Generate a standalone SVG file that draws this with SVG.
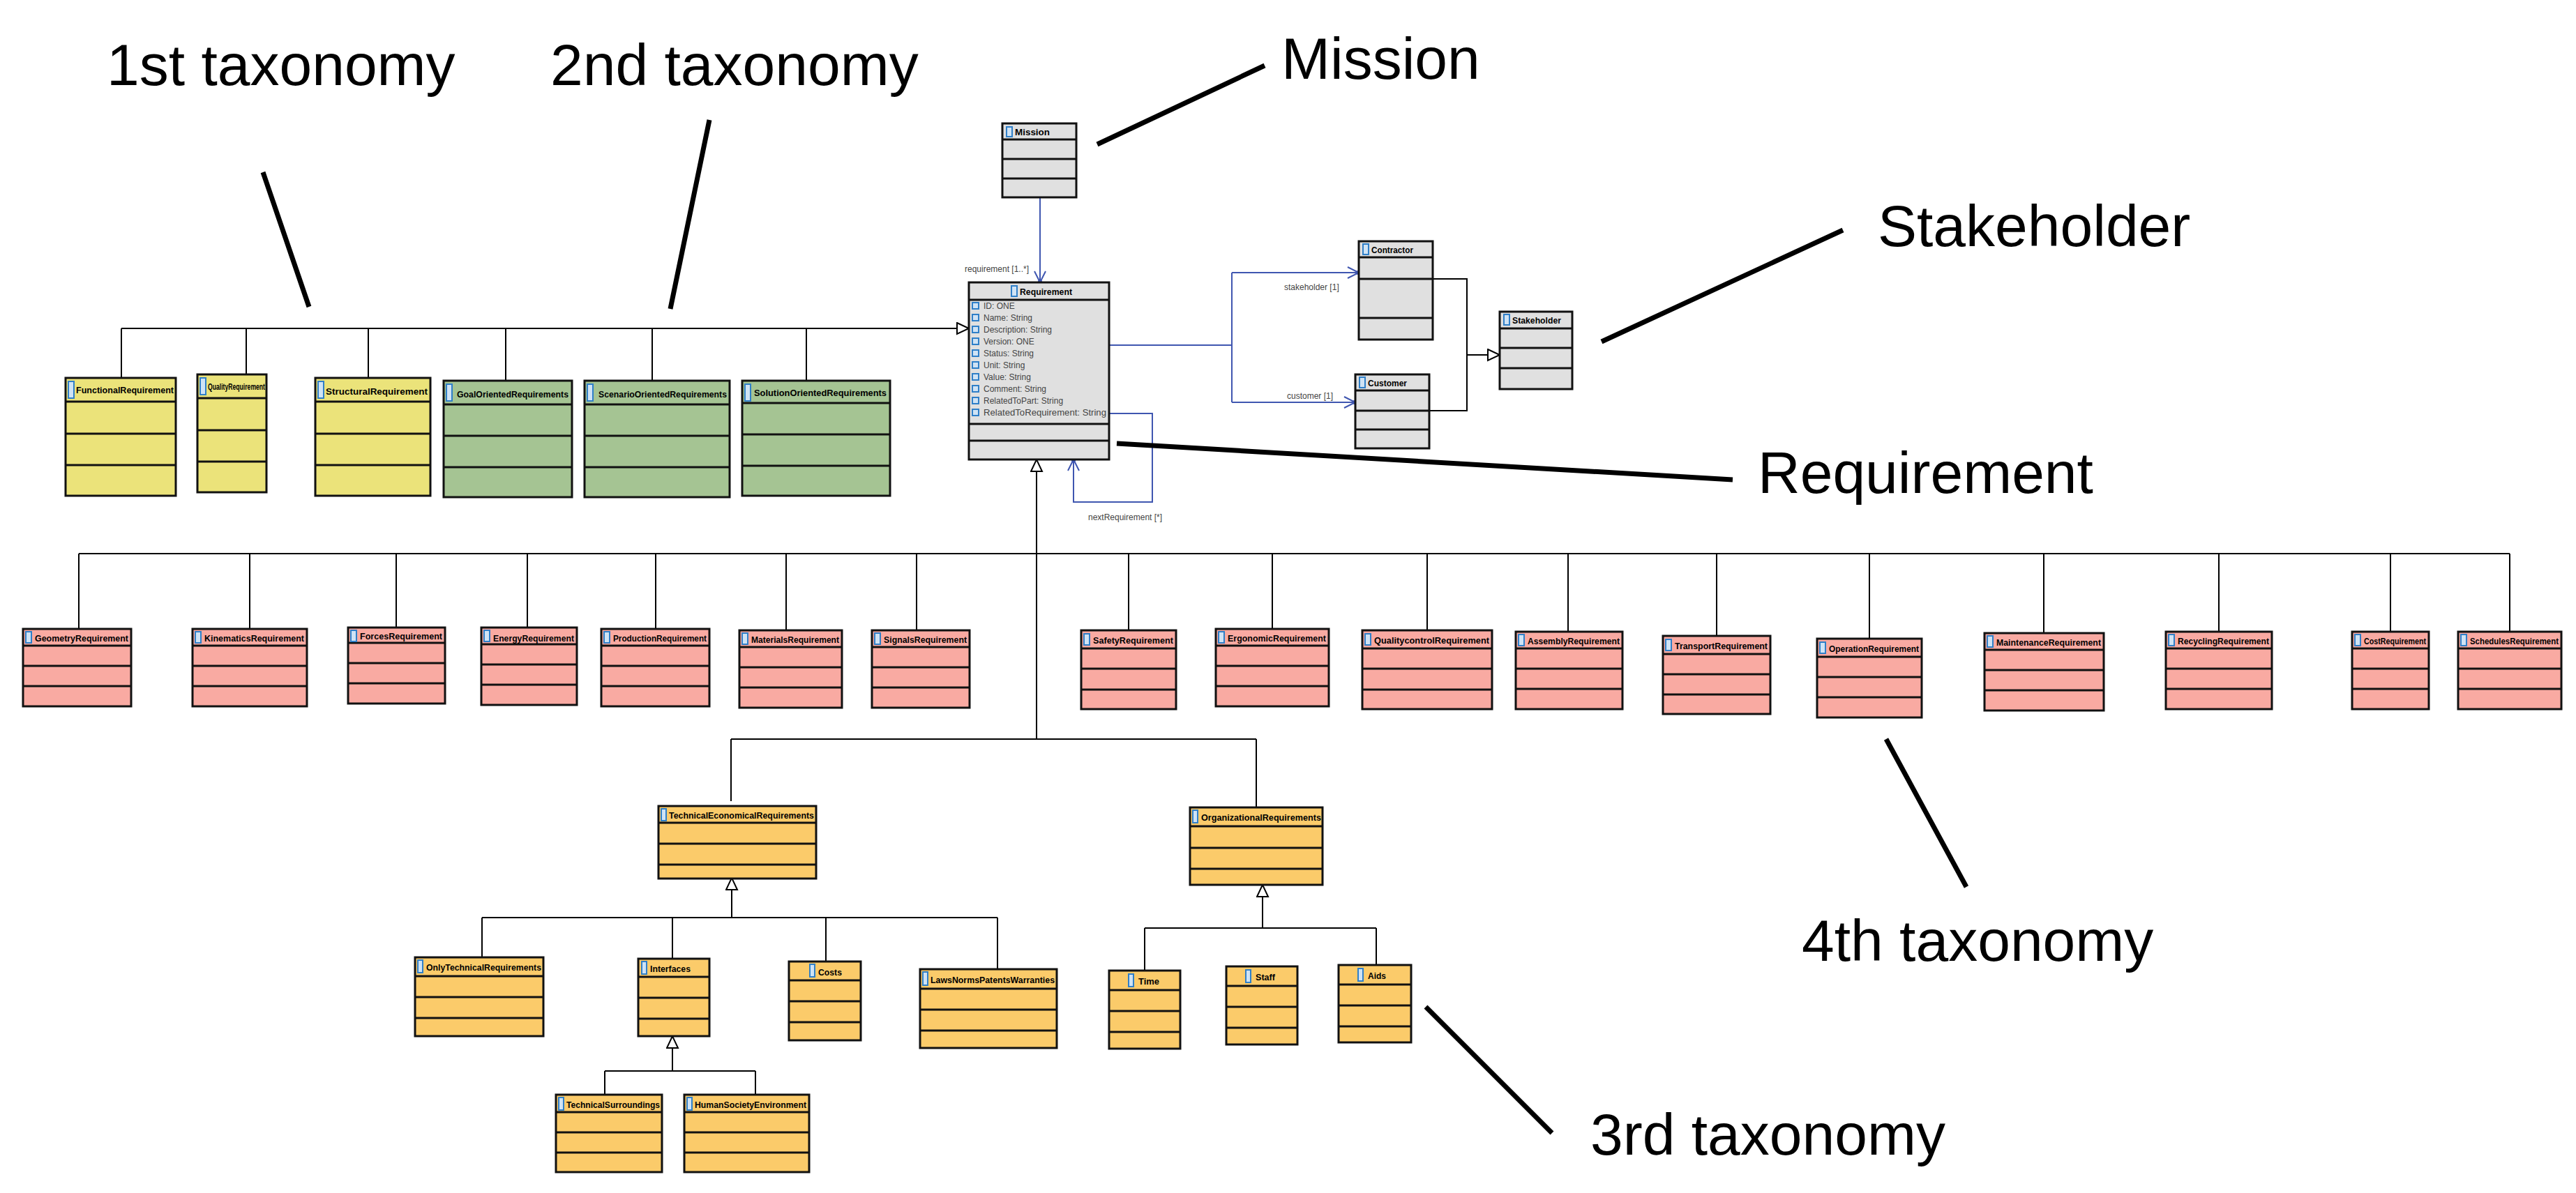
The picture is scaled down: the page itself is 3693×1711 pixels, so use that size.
<svg xmlns="http://www.w3.org/2000/svg" width="3693" height="1711" viewBox="0 0 3693 1711">
<style>
.b{stroke:#111;stroke-width:3}
.y{fill:#ebe37a}.g{fill:#a5c493}.p{fill:#f9aaa2}.o{fill:#fbcb6a}.gr{fill:#e0e0e0}
.cl{stroke:#111;stroke-width:3}
.ic{fill:#cfe3f5;stroke:#2f7fc8;stroke-width:2}
.n{font-family:"Liberation Sans",Arial,sans-serif;font-weight:bold;font-size:13px;fill:#000}
.a{font-family:"Liberation Sans",Arial,sans-serif;font-size:12px;fill:#444}
.lb{font-family:"Liberation Sans",Arial,sans-serif;font-size:12px;fill:#444}
.big{font-family:"Liberation Sans",Arial,sans-serif;font-size:84px;fill:#000}
.k{stroke:#000;stroke-width:2;fill:none}
.bl{stroke:#3f56b0;stroke-width:2;fill:none}
.ptr{stroke:#000;stroke-width:7}
</style>
<defs>
<marker id="gen" markerUnits="userSpaceOnUse" markerWidth="22" markerHeight="22" refX="18" refY="9" orient="auto"><path d="M1,1 L18,9 L1,17 Z" fill="#fff" stroke="#000" stroke-width="2"/></marker>
<marker id="opn" markerUnits="userSpaceOnUse" markerWidth="22" markerHeight="22" refX="18" refY="9" orient="auto"><path d="M2,1 L18,9 L2,17" fill="none" stroke="#3f56b0" stroke-width="2"/><circle cx="17" cy="9" r="3" fill="#3f56b0"/></marker>
</defs>
<rect width="3693" height="1711" fill="#fff"/>

<g id="connectors">
<!-- 1st/2nd taxonomy -->
<path class="k" d="M174,471 H1389" stroke-width="3" marker-end="url(#gen)"/>
<path class="k" d="M174,471 V542 M353,471 V537 M528,471 V542 M725,471 V546 M935,471 V546 M1156,471 V546"/>
<!-- mission -->
<path class="bl" d="M1491,283 V405" marker-end="url(#opn)"/>
<!-- stakeholder assoc -->
<path class="bl" d="M1590,495 H1766" stroke-width="3"/>
<path class="bl" d="M1766,391 V577 M1766,391 H1948" marker-end="url(#opn)"/>
<path class="bl" d="M1766,577 H1943" marker-end="url(#opn)"/>
<path class="k" d="M2054,400 H2103 V589 H2049 M2103,509 H2150" marker-end="url(#gen)"/>
<!-- self loop -->
<path class="bl" d="M1590,593 H1652 V720 H1539 V659" marker-end="url(#opn)"/>
<!-- 4th taxonomy -->
<path class="k" d="M1486,1060 V659" marker-end="url(#gen)"/>
<path class="k" d="M113,794 H3598"/>
<path class="k" d="M113,794 V902 M358,794 V902 M568,794 V900 M756,794 V900 M940,794 V902 M1127,794 V904 M1314,794 V904 M1618,794 V904 M1824,794 V902 M2046,794 V904 M2248,794 V906 M2461,794 V912 M2680,794 V916 M2930,794 V908 M3181,794 V906 M3427,794 V906 M3598,794 V906"/>
<!-- 3rd taxonomy -->
<path class="k" d="M1048,1060 H1801 M1048,1060 V1149 M1801,1060 V1158"/>
<path class="k" d="M1049,1316 V1259" marker-end="url(#gen)"/>
<path class="k" d="M691,1316 H1430 M691,1316 V1373 M964,1316 V1375 M1184,1316 V1379 M1430,1316 V1390"/>
<path class="k" d="M1810,1331 V1269" marker-end="url(#gen)"/>
<path class="k" d="M1641,1331 H1973 M1641,1331 V1392 M1973,1331 V1384"/>
<path class="k" d="M964,1536 V1486" marker-end="url(#gen)"/>
<path class="k" d="M867,1536 H1083 M867,1536 V1570 M1083,1536 V1570"/>
<!-- pointer lines -->
<path class="ptr" d="M377,247 L443,440 M1017,172 L961,443 M1813,94 L1573,207 M2642,330 L2296,490 M1601,636 L2484,688 M2704,1060 L2819,1272 M2044,1444 L2225,1625"/>
</g>

<g id="labels">
<text class="lb" x="1383" y="390">requirement [1..*]</text>
<text class="lb" x="1841" y="416">stakeholder [1]</text>
<text class="lb" x="1845" y="572">customer [1]</text>
<text class="lb" x="1560" y="746">nextRequirement [*]</text>
<text class="big" x="153" y="122">1st taxonomy</text>
<text class="big" x="789" y="122">2nd taxonomy</text>
<text class="big" x="1837" y="113">Mission</text>
<text class="big" x="2692" y="353">Stakeholder</text>
<text class="big" x="2520" y="707">Requirement</text>
<text class="big" x="2583" y="1378">4th taxonomy</text>
<text class="big" x="2280" y="1656">3rd taxonomy</text>
</g>

<g id="Mission"><rect class="gr cl" x="1437" y="177" width="106" height="106"/><path class="cl" d="M1437,200 H1543 M1437,228 H1543 M1437,256 H1543"/><rect class="ic" x="1443" y="182" width="8" height="14"/><text class="n" x="1455" y="194" textLength="50" lengthAdjust="spacingAndGlyphs">Mission</text></g>

<g id="Requirement"><rect class="gr cl" x="1389" y="405" width="201" height="254"/><path class="cl" d="M1389,430 H1590 M1389,608 H1590 M1389,632 H1590"/><rect class="ic" x="1450" y="410" width="8" height="15"/><text class="n" x="1462" y="423" textLength="75" lengthAdjust="spacingAndGlyphs">Requirement</text>
<g class="a">
<rect class="ic" x="1394" y="434" width="9" height="9"/><text x="1410" y="443">ID: ONE</text>
<rect class="ic" x="1394" y="451" width="9" height="9"/><text x="1410" y="460">Name: String</text>
<rect class="ic" x="1394" y="468" width="9" height="9"/><text x="1410" y="477">Description: String</text>
<rect class="ic" x="1394" y="485" width="9" height="9"/><text x="1410" y="494">Version: ONE</text>
<rect class="ic" x="1394" y="502" width="9" height="9"/><text x="1410" y="511">Status: String</text>
<rect class="ic" x="1394" y="519" width="9" height="9"/><text x="1410" y="528">Unit: String</text>
<rect class="ic" x="1394" y="536" width="9" height="9"/><text x="1410" y="545">Value: String</text>
<rect class="ic" x="1394" y="553" width="9" height="9"/><text x="1410" y="562">Comment: String</text>
<rect class="ic" x="1394" y="570" width="9" height="9"/><text x="1410" y="579">RelatedToPart: String</text>
<rect class="ic" x="1394" y="587" width="9" height="9"/><text x="1410" y="596" textLength="176" lengthAdjust="spacingAndGlyphs">RelatedToRequirement: String</text>
</g></g>

<g id="Contractor"><rect class="gr cl" x="1948" y="346" width="106" height="141"/><path class="cl" d="M1948,369 H2054 M1948,400 H2054 M1948,456 H2054"/><rect class="ic" x="1954" y="350" width="8" height="15"/><text class="n" x="1966" y="363" textLength="60" lengthAdjust="spacingAndGlyphs">Contractor</text></g>
<g id="Customer"><rect class="gr cl" x="1943" y="537" width="106" height="106"/><path class="cl" d="M1943,560 H2049 M1943,589 H2049 M1943,616 H2049"/><rect class="ic" x="1949" y="541" width="8" height="15"/><text class="n" x="1961" y="554" textLength="56" lengthAdjust="spacingAndGlyphs">Customer</text></g>
<g id="Stakeholder"><rect class="gr cl" x="2150" y="447" width="104" height="111"/><path class="cl" d="M2150,471 H2254 M2150,499 H2254 M2150,528 H2254"/><rect class="ic" x="2156" y="451" width="8" height="15"/><text class="n" x="2168" y="464" textLength="70" lengthAdjust="spacingAndGlyphs">Stakeholder</text></g>

<!-- 1st taxonomy -->
<g id="FunctionalRequirement"><rect class="y cl" x="94" y="542" width="158" height="169"/><path class="cl" d="M94,576 H252 M94,622 H252 M94,667 H252"/><rect class="ic" x="98" y="547" width="8" height="24"/><text class="n" x="109" y="564" textLength="140" lengthAdjust="spacingAndGlyphs">FunctionalRequirement</text></g>
<g id="QualityRequirement"><rect class="y cl" x="283" y="537" width="99" height="169"/><path class="cl" d="M283,571 H382 M283,617 H382 M283,662 H382"/><rect class="ic" x="287" y="542" width="8" height="24"/><text class="n" x="298" y="559" textLength="82" lengthAdjust="spacingAndGlyphs">QualityRequirement</text></g>
<g id="StructuralRequirement"><rect class="y cl" x="452" y="542" width="165" height="169"/><path class="cl" d="M452,576 H617 M452,622 H617 M452,667 H617"/><rect class="ic" x="456" y="547" width="8" height="24"/><text class="n" x="467" y="566" textLength="146" lengthAdjust="spacingAndGlyphs">StructuralRequirement</text></g>
<!-- 2nd taxonomy -->
<g id="GoalOrientedRequirements"><rect class="g cl" x="636" y="546" width="184" height="167"/><path class="cl" d="M636,580 H820 M636,625 H820 M636,670 H820"/><rect class="ic" x="640" y="551" width="8" height="24"/><text class="n" x="655" y="570" textLength="160" lengthAdjust="spacingAndGlyphs">GoalOrientedRequirements</text></g>
<g id="ScenarioOrientedRequirements"><rect class="g cl" x="838" y="546" width="208" height="167"/><path class="cl" d="M838,580 H1046 M838,625 H1046 M838,670 H1046"/><rect class="ic" x="842" y="551" width="8" height="24"/><text class="n" x="858" y="570" textLength="184" lengthAdjust="spacingAndGlyphs">ScenarioOrientedRequirements</text></g>
<g id="SolutionOrientedRequirements"><rect class="g cl" x="1064" y="546" width="212" height="165"/><path class="cl" d="M1064,578 H1276 M1064,623 H1276 M1064,668 H1276"/><rect class="ic" x="1068" y="551" width="8" height="24"/><text class="n" x="1081" y="568" textLength="190" lengthAdjust="spacingAndGlyphs">SolutionOrientedRequirements</text></g>

<!-- 4th taxonomy -->
<g id="GeometryRequirement"><rect class="p cl" x="33" y="902" width="155" height="111"/><path class="cl" d="M33,926 H188 M33,955 H188 M33,984 H188"/><rect class="ic" x="37" y="906" width="8" height="16"/><text class="n" x="50" y="920" textLength="134" lengthAdjust="spacingAndGlyphs">GeometryRequirement</text></g>
<g id="KinematicsRequirement"><rect class="p cl" x="276" y="902" width="164" height="111"/><path class="cl" d="M276,926 H440 M276,955 H440 M276,984 H440"/><rect class="ic" x="280" y="906" width="8" height="16"/><text class="n" x="293" y="920" textLength="143" lengthAdjust="spacingAndGlyphs">KinematicsRequirement</text></g>
<g id="ForcesRequirement"><rect class="p cl" x="499" y="900" width="139" height="109"/><path class="cl" d="M499,922 H638 M499,951 H638 M499,980 H638"/><rect class="ic" x="503" y="904" width="8" height="16"/><text class="n" x="516" y="917" textLength="118" lengthAdjust="spacingAndGlyphs">ForcesRequirement</text></g>
<g id="EnergyRequirement"><rect class="p cl" x="690" y="900" width="137" height="111"/><path class="cl" d="M690,924 H827 M690,953 H827 M690,982 H827"/><rect class="ic" x="694" y="904" width="8" height="16"/><text class="n" x="707" y="920" textLength="116" lengthAdjust="spacingAndGlyphs">EnergyRequirement</text></g>
<g id="ProductionRequirement"><rect class="p cl" x="862" y="902" width="155" height="111"/><path class="cl" d="M862,926 H1017 M862,955 H1017 M862,984 H1017"/><rect class="ic" x="866" y="906" width="8" height="16"/><text class="n" x="879" y="920" textLength="134" lengthAdjust="spacingAndGlyphs">ProductionRequirement</text></g>
<g id="MaterialsRequirement"><rect class="p cl" x="1060" y="904" width="147" height="111"/><path class="cl" d="M1060,928 H1207 M1060,957 H1207 M1060,986 H1207"/><rect class="ic" x="1064" y="908" width="8" height="16"/><text class="n" x="1077" y="922" textLength="126" lengthAdjust="spacingAndGlyphs">MaterialsRequirement</text></g>
<g id="SignalsRequirement"><rect class="p cl" x="1250" y="904" width="140" height="111"/><path class="cl" d="M1250,928 H1390 M1250,957 H1390 M1250,986 H1390"/><rect class="ic" x="1254" y="908" width="8" height="16"/><text class="n" x="1267" y="922" textLength="119" lengthAdjust="spacingAndGlyphs">SignalsRequirement</text></g>
<g id="SafetyRequirement"><rect class="p cl" x="1550" y="904" width="136" height="113"/><path class="cl" d="M1550,930 H1686 M1550,959 H1686 M1550,989 H1686"/><rect class="ic" x="1554" y="909" width="8" height="16"/><text class="n" x="1567" y="923" textLength="115" lengthAdjust="spacingAndGlyphs">SafetyRequirement</text></g>
<g id="ErgonomicRequirement"><rect class="p cl" x="1743" y="902" width="162" height="111"/><path class="cl" d="M1743,926 H1905 M1743,955 H1905 M1743,984 H1905"/><rect class="ic" x="1747" y="906" width="8" height="16"/><text class="n" x="1760" y="920" textLength="141" lengthAdjust="spacingAndGlyphs">ErgonomicRequirement</text></g>
<g id="QualitycontrolRequirement"><rect class="p cl" x="1953" y="904" width="186" height="113"/><path class="cl" d="M1953,930 H2139 M1953,959 H2139 M1953,989 H2139"/><rect class="ic" x="1957" y="909" width="8" height="16"/><text class="n" x="1970" y="923" textLength="165" lengthAdjust="spacingAndGlyphs">QualitycontrolRequirement</text></g>
<g id="AssemblyRequirement"><rect class="p cl" x="2173" y="906" width="153" height="111"/><path class="cl" d="M2173,930 H2326 M2173,959 H2326 M2173,988 H2326"/><rect class="ic" x="2177" y="910" width="8" height="16"/><text class="n" x="2190" y="924" textLength="132" lengthAdjust="spacingAndGlyphs">AssemblyRequirement</text></g>
<g id="TransportRequirement"><rect class="p cl" x="2384" y="912" width="154" height="112"/><path class="cl" d="M2384,938 H2538 M2384,967 H2538 M2384,996 H2538"/><rect class="ic" x="2388" y="917" width="8" height="16"/><text class="n" x="2401" y="931" textLength="133" lengthAdjust="spacingAndGlyphs">TransportRequirement</text></g>
<g id="OperationRequirement"><rect class="p cl" x="2605" y="916" width="150" height="113"/><path class="cl" d="M2605,942 H2755 M2605,971 H2755 M2605,1000 H2755"/><rect class="ic" x="2609" y="921" width="8" height="16"/><text class="n" x="2622" y="935" textLength="129" lengthAdjust="spacingAndGlyphs">OperationRequirement</text></g>
<g id="MaintenanceRequirement"><rect class="p cl" x="2845" y="908" width="171" height="111"/><path class="cl" d="M2845,932 H3016 M2845,961 H3016 M2845,990 H3016"/><rect class="ic" x="2849" y="912" width="8" height="16"/><text class="n" x="2862" y="926" textLength="150" lengthAdjust="spacingAndGlyphs">MaintenanceRequirement</text></g>
<g id="RecyclingRequirement"><rect class="p cl" x="3105" y="906" width="152" height="111"/><path class="cl" d="M3105,930 H3257 M3105,959 H3257 M3105,988 H3257"/><rect class="ic" x="3109" y="910" width="8" height="16"/><text class="n" x="3122" y="924" textLength="131" lengthAdjust="spacingAndGlyphs">RecyclingRequirement</text></g>
<g id="CostRequirement"><rect class="p cl" x="3372" y="906" width="110" height="111"/><path class="cl" d="M3372,930 H3482 M3372,959 H3482 M3372,988 H3482"/><rect class="ic" x="3376" y="910" width="8" height="16"/><text class="n" x="3389" y="924" textLength="89" lengthAdjust="spacingAndGlyphs">CostRequirement</text></g>
<g id="SchedulesRequirement"><rect class="p cl" x="3524" y="906" width="148" height="111"/><path class="cl" d="M3524,930 H3672 M3524,959 H3672 M3524,988 H3672"/><rect class="ic" x="3528" y="910" width="8" height="16"/><text class="n" x="3541" y="924" textLength="127" lengthAdjust="spacingAndGlyphs">SchedulesRequirement</text></g>

<!-- 3rd taxonomy -->
<g id="TechnicalEconomicalRequirements"><rect class="o cl" x="944" y="1156" width="226" height="104"/><path class="cl" d="M944,1180 H1170 M944,1210 H1170 M944,1240 H1170"/><rect class="ic" x="948" y="1160" width="7" height="17"/><text class="n" x="959" y="1174" textLength="208" lengthAdjust="spacingAndGlyphs">TechnicalEconomicalRequirements</text></g>
<g id="OrganizationalRequirements"><rect class="o cl" x="1706" y="1158" width="190" height="111"/><path class="cl" d="M1706,1185 H1896 M1706,1216 H1896 M1706,1246 H1896"/><rect class="ic" x="1710" y="1162" width="7" height="18"/><text class="n" x="1722" y="1177" textLength="172" lengthAdjust="spacingAndGlyphs">OrganizationalRequirements</text></g>
<g id="OnlyTechnicalRequirements"><rect class="o cl" x="595" y="1373" width="184" height="113"/><path class="cl" d="M595,1400 H779 M595,1430 H779 M595,1460 H779"/><rect class="ic" x="599" y="1377" width="7" height="18"/><text class="n" x="611" y="1392" textLength="165" lengthAdjust="spacingAndGlyphs">OnlyTechnicalRequirements</text></g>
<g id="Interfaces"><rect class="o cl" x="915" y="1375" width="102" height="111"/><path class="cl" d="M915,1401 H1017 M915,1431 H1017 M915,1461 H1017"/><rect class="ic" x="920" y="1379" width="7" height="18"/><text class="n" x="932" y="1394" textLength="58" lengthAdjust="spacingAndGlyphs">Interfaces</text></g>
<g id="Costs"><rect class="o cl" x="1131" y="1379" width="103" height="113"/><path class="cl" d="M1131,1406 H1234 M1131,1436 H1234 M1131,1466 H1234"/><rect class="ic" x="1161" y="1383" width="7" height="18"/><text class="n" x="1173" y="1399" textLength="34" lengthAdjust="spacingAndGlyphs">Costs</text></g>
<g id="LawsNormsPatentsWarranties"><rect class="o cl" x="1319" y="1390" width="196" height="113"/><path class="cl" d="M1319,1418 H1515 M1319,1448 H1515 M1319,1478 H1515"/><rect class="ic" x="1323" y="1394" width="7" height="19"/><text class="n" x="1334" y="1410" textLength="178" lengthAdjust="spacingAndGlyphs">LawsNormsPatentsWarranties</text></g>
<g id="Time"><rect class="o cl" x="1590" y="1392" width="102" height="112"/><path class="cl" d="M1590,1420 H1692 M1590,1450 H1692 M1590,1480 H1692"/><rect class="ic" x="1618" y="1397" width="7" height="18"/><text class="n" x="1632" y="1412" textLength="30" lengthAdjust="spacingAndGlyphs">Time</text></g>
<g id="Staff"><rect class="o cl" x="1758" y="1386" width="102" height="112"/><path class="cl" d="M1758,1414 H1860 M1758,1444 H1860 M1758,1474 H1860"/><rect class="ic" x="1786" y="1391" width="7" height="18"/><text class="n" x="1800" y="1406" textLength="28" lengthAdjust="spacingAndGlyphs">Staff</text></g>
<g id="Aids"><rect class="o cl" x="1919" y="1384" width="104" height="111"/><path class="cl" d="M1919,1412 H2023 M1919,1442 H2023 M1919,1472 H2023"/><rect class="ic" x="1947" y="1389" width="7" height="18"/><text class="n" x="1961" y="1404" textLength="26" lengthAdjust="spacingAndGlyphs">Aids</text></g>
<g id="TechnicalSurroundings"><rect class="o cl" x="797" y="1570" width="152" height="111"/><path class="cl" d="M797,1595 H949 M797,1624 H949 M797,1653 H949"/><rect class="ic" x="801" y="1574" width="7" height="18"/><text class="n" x="812" y="1589" textLength="134" lengthAdjust="spacingAndGlyphs">TechnicalSurroundings</text></g>
<g id="HumanSocietyEnvironment"><rect class="o cl" x="981" y="1570" width="179" height="111"/><path class="cl" d="M981,1595 H1160 M981,1624 H1160 M981,1653 H1160"/><rect class="ic" x="985" y="1574" width="7" height="18"/><text class="n" x="996" y="1589" textLength="160" lengthAdjust="spacingAndGlyphs">HumanSocietyEnvironment</text></g>
</svg>
